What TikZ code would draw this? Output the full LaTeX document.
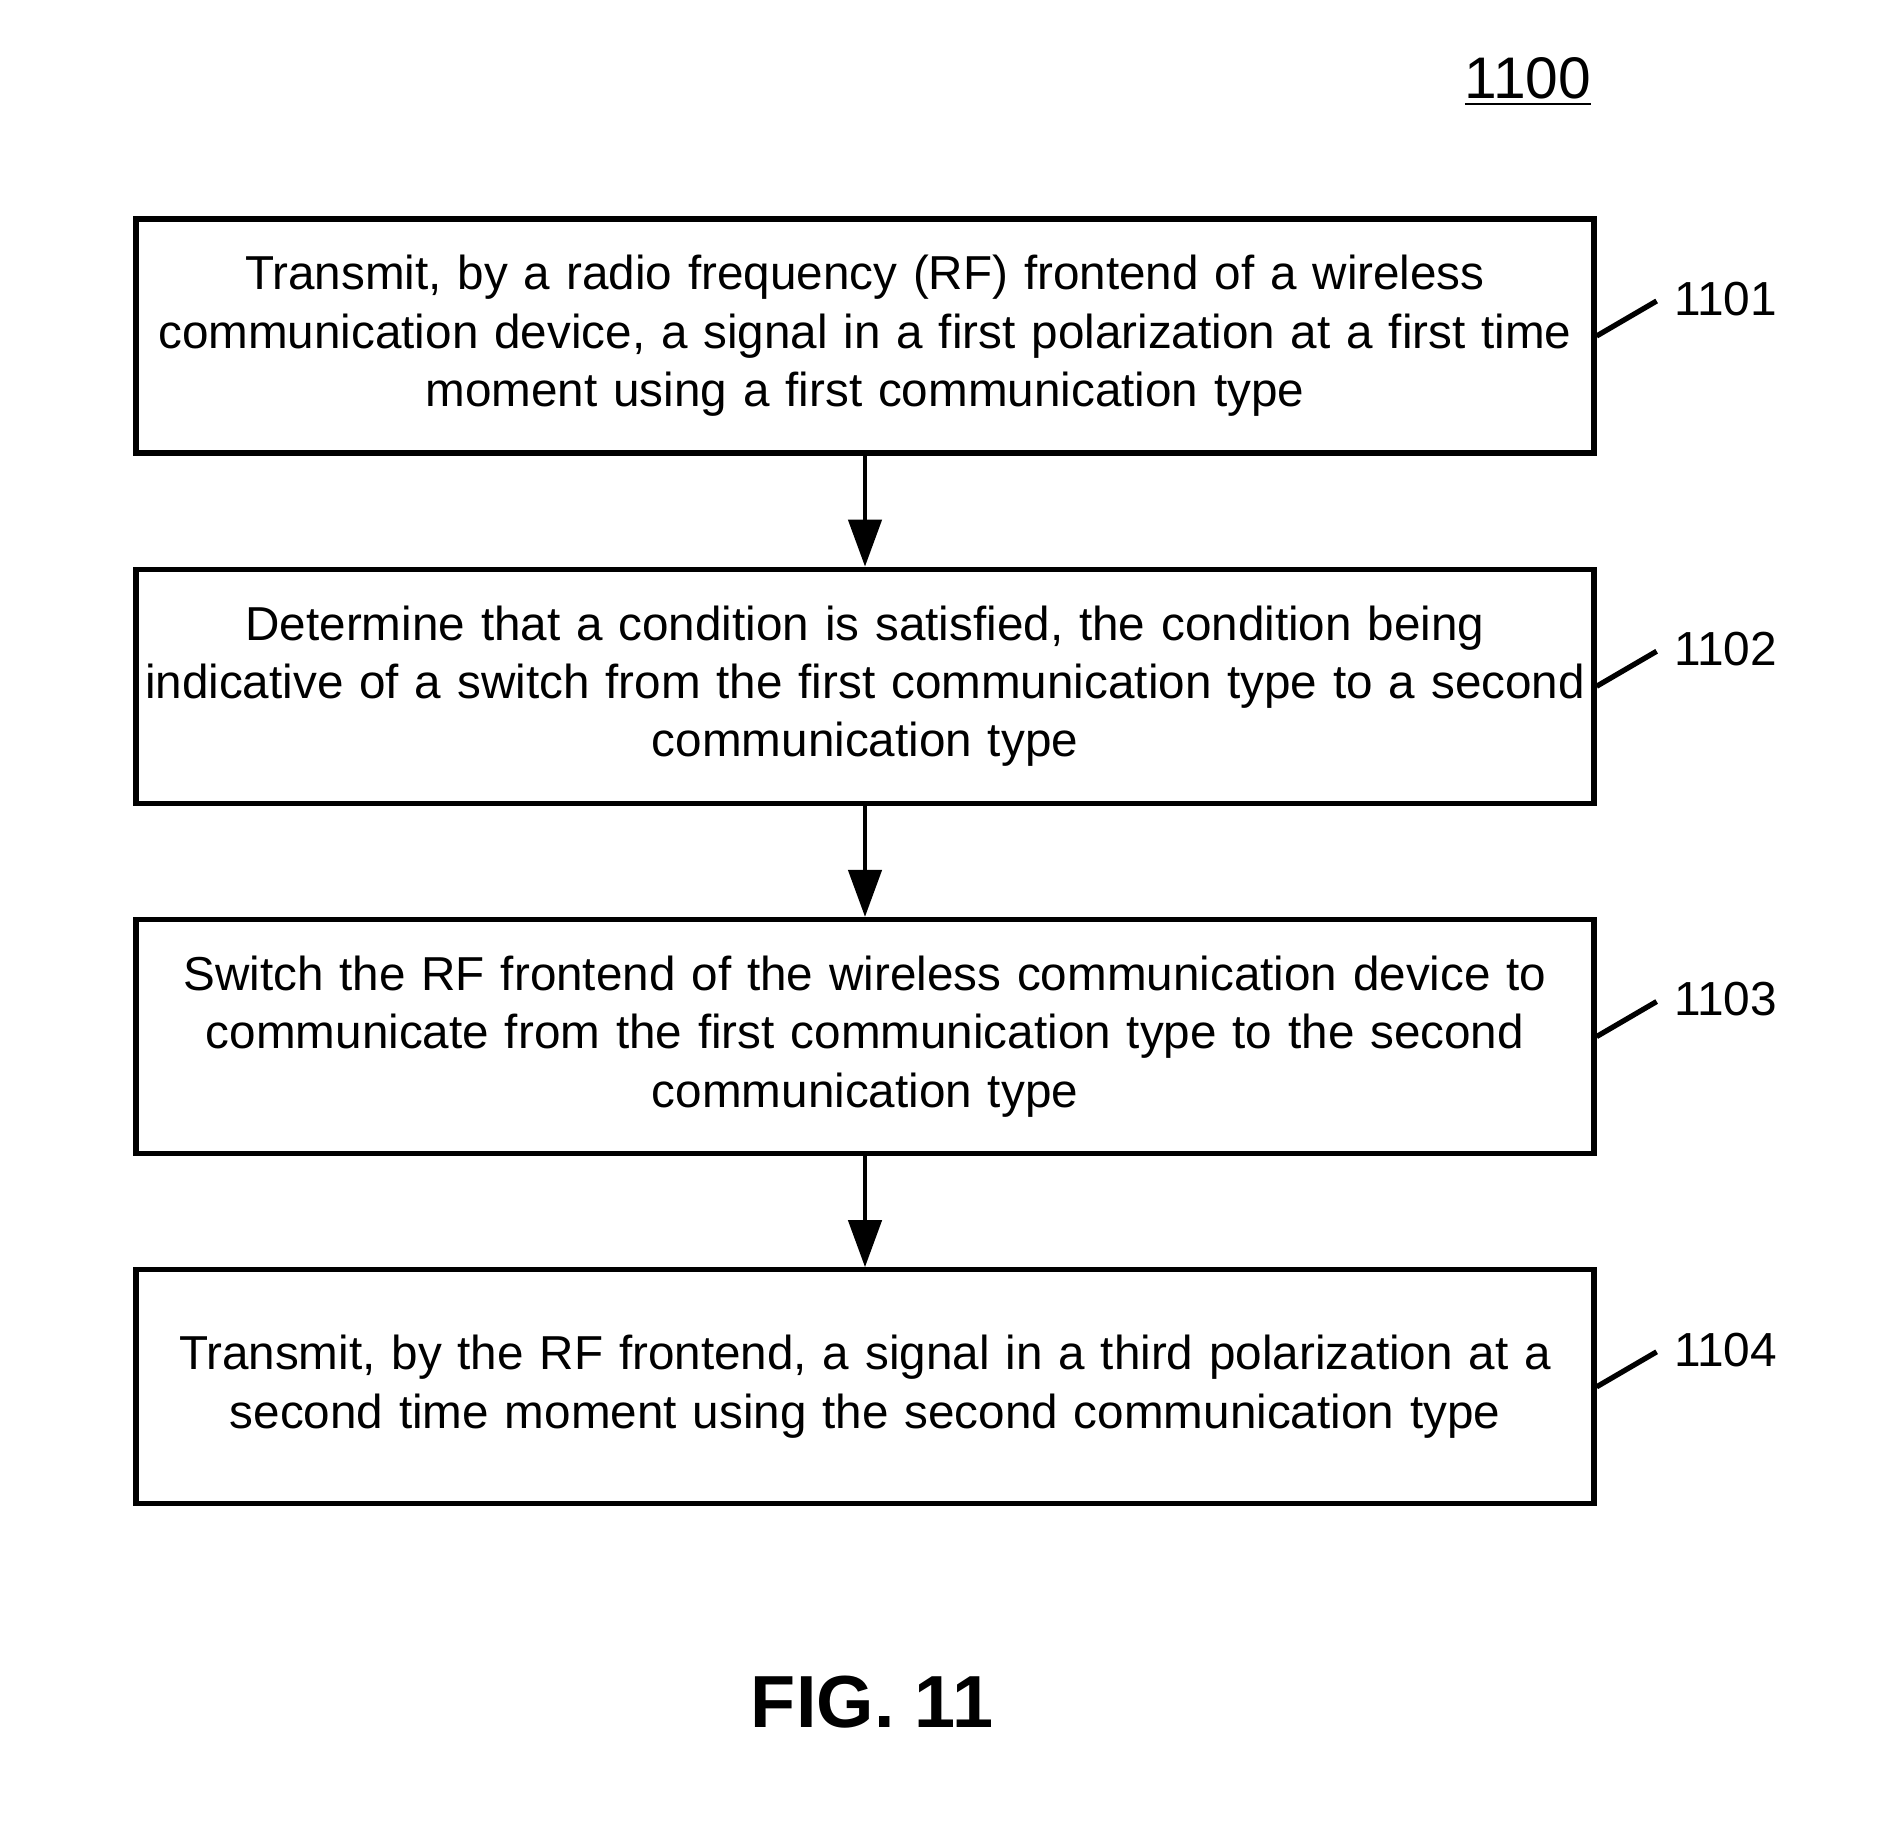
\documentclass[tikz,border=0pt]{standalone}
\usepackage{fontspec}
\setmainfont{Liberation Sans}
\usetikzlibrary{arrows.meta,positioning}

\begin{document}
\begin{tikzpicture}[node distance=1.11cm, every node/.style={font=\fontsize{13.55}{16.6}\selectfont}]
    \tikzstyle{stepbox} = [rectangle, draw=black, line width=1.5pt, text width=14.58cm, align=center,
        minimum width=14.58cm, minimum height=2.34cm, inner sep=0pt]
    \tikzstyle{reflabel} = [anchor=west, inner sep=0pt, font=\fontsize{13.6}{16}\selectfont]
    \tikzstyle{flow} = [-{Triangle[length=4.7mm, width=3.3mm]}, line width=1.3pt]
    \useasboundingbox (0,0) rectangle (18.99,18.46);

    \node (s1) [stepbox] at (8.65,15.10) {Transmit, by a radio frequency (RF) frontend of a wireless\\
        communication device, a signal in a first polarization at a first time\\
        moment using a first communication type};
    \node (s2) [stepbox, below=of s1] {Determine that a condition is satisfied, the condition being\\
        indicative of a switch from the first communication type to a second\\
        communication type};
    \node (s3) [stepbox, below=of s2] {Switch the RF frontend of the wireless communication device to\\
        communicate from the first communication type to the second\\
        communication type};
    \node (s4) [stepbox, below=of s3] {Transmit, by the RF frontend, a signal in a third polarization at a\\
        second time moment using the second communication type};

    \draw [flow] (s1) -- (s2);
    \draw [flow] (s2) -- (s3);
    \draw [flow] (s3) -- (s4);

    % reference numerals
    \foreach \s/\n in {s1/1101, s2/1102, s3/1103, s4/1104} {
        \coordinate (t\s) at ([shift={(0.6,0.35)}]\s.east);
        \node (l\s) [reflabel] at ([xshift=0.17cm, yshift=0.02cm]t\s) {\n};
        \draw [line width=1.5pt] (\s.east) -- (t\s);
    }

    \node (fignum) at (15.28,17.64) {\fontsize{16.7}{20}\selectfont\underline{1100}};
    \node (figcap) at (8.72,1.44) {\fontsize{21}{24}\selectfont\bfseries FIG. 11};
\end{tikzpicture}
\end{document}
